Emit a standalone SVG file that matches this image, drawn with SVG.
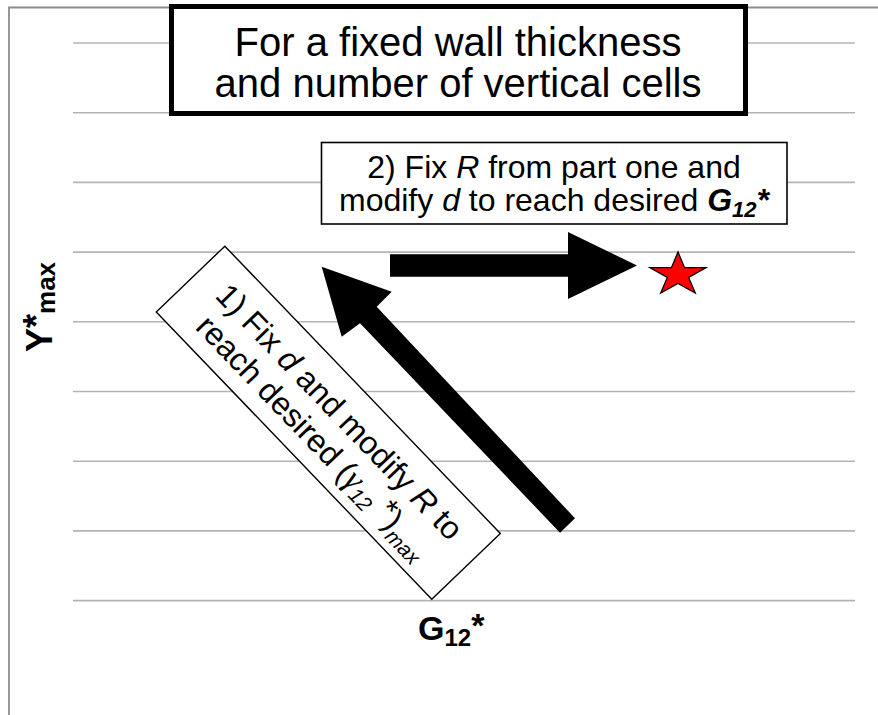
<svg xmlns="http://www.w3.org/2000/svg" width="878" height="715" viewBox="0 0 878 715">
  <style>
    .grid { stroke: #b4b4b4; stroke-width: 1.6; fill: none; }
    .frame { stroke: #8c8c8c; stroke-width: 1.8; fill: none; }
    .box { fill: #ffffff; stroke: #000000; }
    .txt { font-family: "Liberation Sans", Arial, sans-serif; fill: #000000; }
    .axis { font-family: "Liberation Sans", Arial, sans-serif; font-weight: bold; fill: #000000; }
    .greek { font-family: "Liberation Serif", "DejaVu Serif", serif; font-style: italic; }
    .bigarrow { fill: #000000; stroke: none; }
  </style>
  <rect x="0" y="0" width="878" height="715" fill="#ffffff"/>
  <g id="frame">
    <path class="frame" d="M9,715 V7.5 H878"/>
  </g>
  <g id="gridlines">
    <line class="grid" x1="73" y1="43" x2="855" y2="43"/>
    <line class="grid" x1="73" y1="112.7" x2="855" y2="112.7"/>
    <line class="grid" x1="73" y1="182.4" x2="855" y2="182.4"/>
    <line class="grid" x1="73" y1="252.1" x2="855" y2="252.1"/>
    <line class="grid" x1="73" y1="321.8" x2="855" y2="321.8"/>
    <line class="grid" x1="73" y1="391.5" x2="855" y2="391.5"/>
    <line class="grid" x1="73" y1="461.2" x2="855" y2="461.2"/>
    <line class="grid" x1="73" y1="530.9" x2="855" y2="530.9"/>
    <line class="grid" x1="73" y1="600.6" x2="855" y2="600.6"/>
  </g>
  <g id="axis-y-label">
    <text class="axis" font-size="36" transform="translate(52,352) rotate(-90)"><tspan>Y</tspan><tspan dy="-3">*</tspan><tspan font-size="26" dy="6">max</tspan></text>
  </g>
  <g id="axis-x-label">
    <text class="axis" font-size="34" x="418" y="640">G<tspan font-size="24" dy="6">12</tspan><tspan dy="-9">*</tspan></text>
  </g>
  <g id="title">
    <rect class="box" x="171.5" y="6.5" width="574" height="107" stroke-width="5"/>
    <text class="txt" font-size="40" text-anchor="middle" x="458" y="56">For a fixed wall thickness</text>
    <text class="txt" font-size="40" text-anchor="middle" x="458" y="97">and number of vertical cells</text>
  </g>
  <g id="step2">
    <rect class="box" x="321.5" y="142.5" width="465.5" height="81.5" stroke-width="1.6"/>
    <text class="txt" font-size="32" text-anchor="middle" x="554" y="178">2) Fix <tspan font-style="italic">R</tspan> from part one and</text>
    <text class="txt" font-size="32" text-anchor="middle" x="554" y="211">modify <tspan font-style="italic">d</tspan> to reach desired <tspan font-style="italic" font-weight="bold">G</tspan><tspan font-style="italic" font-weight="bold" font-size="22" dy="6">12</tspan><tspan font-style="italic" font-weight="bold" dy="-6">*</tspan></text>
  </g>
  <g id="step1" transform="rotate(46.2 328.3 422.65)">
    <rect class="box" x="129.3" y="375.15" width="398" height="95" stroke-width="1.4"/>
    <text class="txt" font-size="32" text-anchor="middle" x="328.3" y="418">1) Fix <tspan font-style="italic">d</tspan> and modify <tspan font-style="italic">R</tspan> to</text>
    <text class="txt" font-size="32" text-anchor="middle" x="328.3" y="454">reach desired (<tspan class="greek" font-size="34">γ</tspan><tspan font-style="italic" font-size="21" dy="6">12</tspan><tspan dy="-10"> *</tspan><tspan dy="4">)</tspan><tspan font-style="italic" font-size="21" dy="8">max</tspan></text>
  </g>
  <g id="target-star">
    <polygon points="678,252 684.6,267.7 706,267.7 688.7,277.4 695.3,293 678,283.4 660.7,293 667.3,277.4 650,267.7 671.4,267.7" fill="#ff0000" stroke="#000000" stroke-width="1.3" stroke-linejoin="miter"/>
  </g>
  <g id="connectors">
    <polygon id="arrow-step1" class="bigarrow" points="321.7,266.7 391.7,291.7 376.7,306.7 575,518.3 560,532.7 360,323.3 341.7,336.7"/>
    <polygon id="arrow-step2" class="bigarrow" points="390,254.3 568,254.3 568,232 637,265.5 568,299 568,276.7 390,276.7"/>
  </g>
</svg>
